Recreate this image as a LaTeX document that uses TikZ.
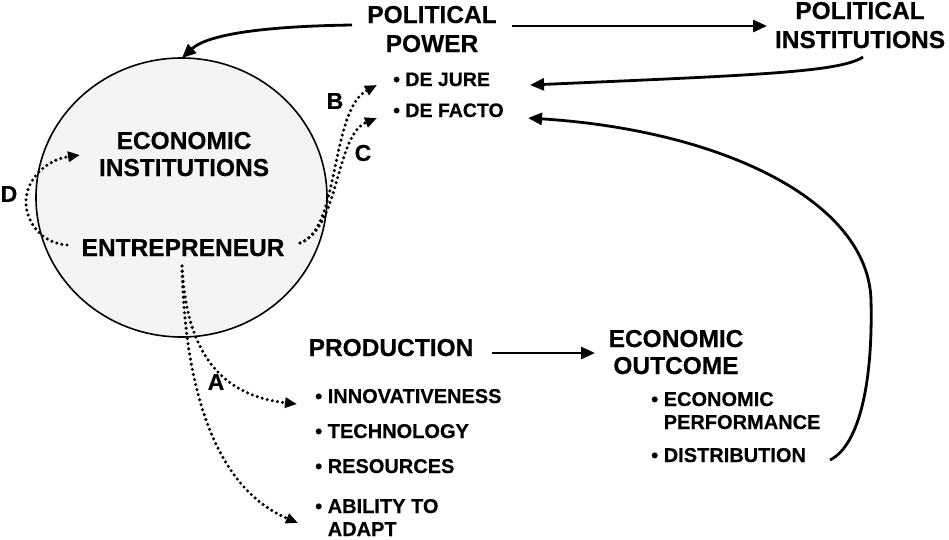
\documentclass[tikz,border=0pt]{standalone}
\usepackage{fontspec}
\setmainfont{Liberation Sans}[BoldFeatures={FakeBold=0.4}]
\usetikzlibrary{arrows.meta}
\definecolor{circfill}{HTML}{F4F4F4}
\begin{document}
\begin{tikzpicture}[x=1pt,y=-1pt,
  big/.style={font=\fontsize{24.5}{29}\selectfont\bfseries, inner sep=0pt, align=center, anchor=base},
  bigtight/.style={font=\fontsize{24.5}{27}\selectfont\bfseries, inner sep=0pt, align=center, anchor=base},
  small/.style={font=\fontsize{20}{23}\selectfont\bfseries, inner sep=0pt, align=left, anchor=base west},
  smaller/.style={font=\fontsize{19.5}{23}\selectfont\bfseries, inner sep=0pt, align=left, anchor=base west},
  letter/.style={font=\fontsize{23}{26}\selectfont\bfseries, inner sep=0pt},
  solidarrow/.style={line width=2.8pt, -{Triangle[length=14pt,width=12pt]}},
  dotarrow/.style={line width=3.4pt, dash pattern=on 0pt off 5.2pt, line cap=round, -{Triangle[length=12pt,width=10pt]}}
]
\useasboundingbox (0,0) rectangle (949,539);

% circle
\draw[line width=1.6pt, fill=circfill] (181.5,197.5) ellipse [x radius=145.5, y radius=139.5];

% main labels (base = baseline of the last line)
\node[big] (polpow) at (432,52) {POLITICAL\\POWER};
\node[big] (polinst) at (860,48) {POLITICAL\\INSTITUTIONS};
\node[bigtight] (econinst) at (184,176) {ECONOMIC\\INSTITUTIONS};
\node[big] (entre) at (183,256) {ENTREPRENEUR};
\node[big] (prod) at (391,356) {PRODUCTION};
\node[bigtight] (outcome) at (676,374) {ECONOMIC\\OUTCOME};

% bullet lists
\node[smaller] (dejure) at (393,86) {• DE JURE};
\node[smaller] (defacto) at (393,117) {• DE FACTO};
\node[small] (innov) at (315,403) {• INNOVATIVENESS};
\node[small] (tech) at (315,438) {• TECHNOLOGY};
\node[small] (res) at (315,473) {• RESOURCES};
\node[small] (abil) at (315,536) {• ABILITY TO\\\phantom{• }ADAPT};
\node[small] (perf) at (651,429) {• ECONOMIC\\\phantom{• }PERFORMANCE};
\node[small] (distr) at (651,462) {• DISTRIBUTION};

% letters
\node[letter] (lA) at (216,382) {A};
\node[letter] (lB) at (335,101) {B};
\node[letter] (lC) at (363,153) {C};
\node[letter] (lD) at (9,194) {D};

% connector end points
\coordinate (pp-l) at (352,25);
\coordinate (circ-top) at (182,58);
\coordinate (pp-r) at (512,26);
\coordinate (pi-l) at (767,26);
\coordinate (pi-b) at (863,57);
\coordinate (dj-r) at (530,85);
\coordinate (df-r) at (528,118);
\coordinate (di-r) at (830,460);
\coordinate (di-up) at (871,300);
\coordinate (pr-r) at (492,353);
\coordinate (oc-l) at (595,353);
\coordinate (en-b) at (182,266);
\coordinate (in-l) at (297,404);
\coordinate (ab-l) at (298,523);
\coordinate (en-r) at (300,243);
\coordinate (dj-l) at (377,85);
\coordinate (df-l) at (377,118);
\coordinate (en-l) at (67,245);
\coordinate (ei-l) at (80,155);

% solid arrows
\draw[solidarrow] (pp-l) .. controls (280,26) and (210,32) .. (circ-top);
\draw[solidarrow] (pp-r) -- (pi-l);
\draw[solidarrow] (pi-b) .. controls (840,72) and (760,75) .. (dj-r);
\draw[solidarrow] (di-r) .. controls (860,445) and (873,380) .. (di-up) .. controls (868,200) and (720,130) .. (df-r);
\draw[solidarrow] (pr-r) -- (oc-l);

% dotted arrows
\draw[dotarrow] (en-b) .. controls (186,345) and (215,395) .. (in-l);
\draw[dotarrow] (en-b) .. controls (185,400) and (220,490) .. (ab-l);
\draw[dotarrow] (en-r) .. controls (340,230) and (330,110) .. (dj-l);
\draw[dotarrow] (en-r) .. controls (340,228) and (335,135) .. (df-l);
\draw[dotarrow] (en-l) .. controls (40,243) and (25,220) .. (26,200) .. controls (27,180) and (45,160) .. (ei-l);
\end{tikzpicture}
\end{document}
